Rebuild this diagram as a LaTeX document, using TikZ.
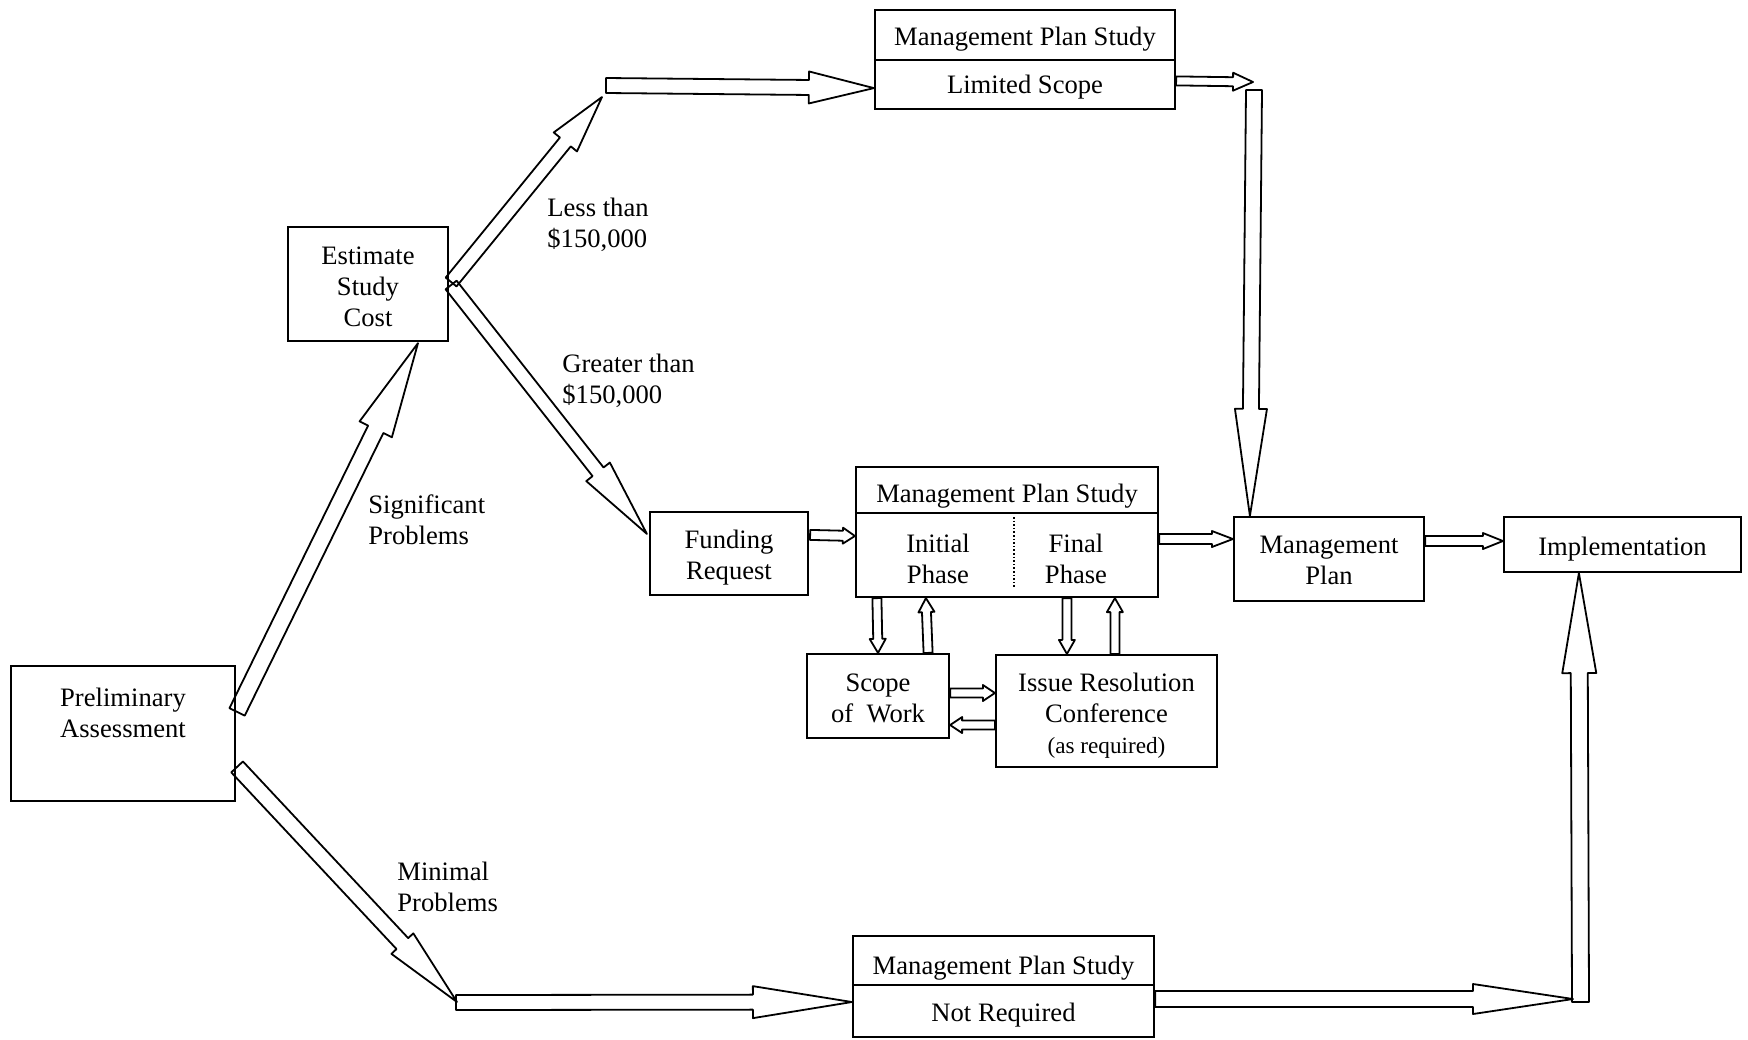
\documentclass[tikz,border=0pt]{standalone}
\usepackage{fontspec}
\setmainfont{Liberation Serif}
\usetikzlibrary{calc}
\newcommand\blockarrow[5]{%
  \coordinate (bahead) at ($(#2)!#5!(#1)$);
  \draw[blockarr] ($(#1)!#3!90:(#2)$) -- ($(bahead)!#3!90:(#2)$) -- ($(bahead)!#4!90:(#2)$) -- (#2) -- ($(bahead)!#4!-90:(#2)$) -- ($(bahead)!#3!-90:(#2)$) -- ($(#1)!#3!-90:(#2)$) -- cycle;}
\tikzset{
  box/.style={draw, line width=1.1pt, inner sep=0pt, align=center},
  txt/.style={inner sep=0pt, align=center},
  lbl/.style={inner sep=0pt, align=left, anchor=west},
  blockarr/.style={draw, line width=0.9pt, line join=round},
  divider/.style={line width=1.1pt},
}
\begin{document}
\begin{tikzpicture}[x=0.5pt, y=-0.5pt,
  every node/.append style={font=\fontsize{13.3}{15.5}\selectfont}]
\useasboundingbox (0,0) rectangle (1748,1039);

% boxes
\node[box, minimum width=150pt, minimum height=49.5pt] (topmps) at (1025,59.5) {};
\draw[divider] (topmps.west |- 0,60) -- (topmps.east |- 0,60);
\node[txt] (topmpst) at (1025,39.5) {Management Plan Study};
\node[txt] (topmpsb) at (1025,87) {Limited Scope};

\node[box, minimum width=80pt, minimum height=57pt] (estimate) at (368,284) {};
\node[txt] (estimatet) at ($(estimate.center)+(0,2.5)$) {Estimate\\Study\\Cost};

\node[box, minimum width=112pt, minimum height=67.5pt] (prelim) at (123,733.5) {};
\node[txt] (prelimt) at (123,713) {Preliminary\\Assessment};

\node[box, minimum width=79pt, minimum height=41.5pt] (funding) at (729,553.5) {};
\node[txt] (fundingt) at ($(funding.center)+(0,4)$) {Funding\\Request};

\node[box, minimum width=151pt, minimum height=65pt] (midmps) at (1007,532) {};
\draw[divider] (midmps.west |- 0,513) -- (midmps.east |- 0,513);
\node[txt] (midmpst) at (1007,496) {Management Plan Study};
\node[txt] (initial) at (938,558.5) {Initial\\Phase};
\node[txt] (final) at (1076,558.5) {Final\\Phase};
\draw[line width=0.8pt, densely dotted] (1014,517) -- (1014,587);

\node[box, minimum width=71pt, minimum height=42pt] (scope) at (878,696) {};
\node[txt] (scopet) at ($(scope.center)+(0,2)$) {Scope\\of~~Work};
\node[box, minimum width=110.5pt, minimum height=56pt] (issue) at (1106.5,711) {};
\node[txt] (issuet) at ($(issue.center)+(0,4.5)$) {Issue Resolution\\Conference\\{\fontsize{11.6}{14}\selectfont (as required)}};

\node[box, minimum width=95pt, minimum height=42pt] (mplan) at (1329,559) {};
\node[txt] (mplant) at ($(mplan.center)+(0,1)$) {Management\\Plan};
\node[box, minimum width=118.5pt, minimum height=27.5pt] (impl) at (1622.5,544.5) {};
\node[txt] (implt) at ($(impl.center)+(0,5)$) {Implementation};

\node[box, minimum width=150.5pt, minimum height=50.5pt] (botmps) at (1003.5,986.5) {};
\draw[divider] (botmps.west |- 0,985) -- (botmps.east |- 0,985);
\node[txt] (botmpst) at (1003.5,968) {Management Plan Study};
\node[txt] (botmpsb) at (1003.5,1015) {Not Required};

% labels
\node[lbl] (lessl) at (547,225) {Less than\\\$150,000};
\node[lbl] (greaterl) at (562,381) {Greater than\\\$150,000};
\node[lbl] (sigl) at (368,520) {Significant\\Problems};
\node[lbl] (minl) at (397,887) {Minimal\\Problems};

% connector points
\coordinate (aS) at ($(prelim.north east)+(1,47)$);
\coordinate (aE) at ($(estimate.south)+(50,1)$);
\coordinate (bS) at ($(estimate.east)+(2,-2)$);
\coordinate (ltip) at (602,97);
\coordinate (cS) at ($(estimate.east)+(2,1)$);
\coordinate (cE) at ($(funding.north west)+(-2,23)$);
\coordinate (lstart) at (606,85.5);
\coordinate (dE) at ($(topmps.south west)+(0,-22)$);
\coordinate (eS) at ($(topmps.north east)+(0,72)$);
\coordinate (rtip) at (1253,82);
\coordinate (rdown) at (1254,90);
\coordinate (fE) at ($(mplan.north west)+(17,0)$);
\coordinate (gS) at ($(funding.north east)+(1,24)$);
\coordinate (gE) at ($(midmps.west)+(0,4)$);
\coordinate (hS) at ($(midmps.east)+(0,7)$);
\coordinate (hE) at ($(mplan.west)+(0,-20)$);
\coordinate (iS) at ($(mplan.east)+(0,-18)$);
\coordinate (iE) at ($(impl.west)+(0,-3.5)$);
\coordinate (j1S) at ($(midmps.south west)+(22,0)$);
\coordinate (j1E) at (scope.north);
\coordinate (j2S) at ($(scope.north east)+(-22,0)$);
\coordinate (j2E) at ($(midmps.south west)+(71,0)$);
\coordinate (j3S) at ($(midmps.south west)+(212,0)$);
\coordinate (j3E) at ($(issue.north west)+(72,0)$);
\coordinate (j4S) at ($(issue.north west)+(120,0)$);
\coordinate (j4E) at ($(midmps.south west)+(260,0)$);
\coordinate (j5S) at ($(scope.east)+(0,-3)$);
\coordinate (j5E) at ($(issue.west)+(0,-18)$);
\coordinate (j6S) at ($(issue.west)+(0,14)$);
\coordinate (j6E) at ($(scope.east)+(0,29)$);
\coordinate (kS) at ($(prelim.north east)+(1,102)$);
\coordinate (btip) at (457,1002);
\coordinate (bstart) at (456,1002.5);
\coordinate (lE) at ($(botmps.west)+(0,15.5)$);
\coordinate (mS) at ($(botmps.east)+(0,12.5)$);
\coordinate (brtip) at (1573,999);
\coordinate (brup) at (1580.5,1002);
\coordinate (nE) at ($(impl.south west)+(76,0)$);

% block arrows: from, to, half shaft, half head, head length
\blockarrow{aS}{aE}{4.25pt}{9pt}{48pt}
\blockarrow{bS}{ltip}{3.5pt}{7.5pt}{29pt}
\blockarrow{cS}{cE}{3.5pt}{7.5pt}{39.5pt}
\blockarrow{lstart}{dE}{3.75pt}{8pt}{32.5pt}
\blockarrow{eS}{rtip}{2.25pt}{4.5pt}{10pt}
\blockarrow{rdown}{fE}{4pt}{8pt}{53.5pt}
\blockarrow{gS}{gE}{2.5pt}{4pt}{6pt}
\blockarrow{hS}{hE}{2.5pt}{4pt}{10.5pt}
\blockarrow{iS}{iE}{2.5pt}{4pt}{10pt}
\blockarrow{j1S}{j1E}{2.25pt}{4pt}{7pt}
\blockarrow{j2S}{j2E}{2.25pt}{4pt}{7pt}
\blockarrow{j3S}{j3E}{2.25pt}{4pt}{7pt}
\blockarrow{j4S}{j4E}{2.25pt}{4pt}{7pt}
\blockarrow{j5S}{j5E}{2.25pt}{4pt}{6pt}
\blockarrow{j6S}{j6E}{2.25pt}{4pt}{6pt}
\blockarrow{kS}{btip}{4pt}{7.5pt}{40pt}
\blockarrow{bstart}{lE}{3.75pt}{8pt}{49.5pt}
\blockarrow{mS}{brtip}{4pt}{7.5pt}{50pt}
\blockarrow{brup}{nE}{4.25pt}{8.5pt}{50pt}
\end{tikzpicture}
\end{document}
